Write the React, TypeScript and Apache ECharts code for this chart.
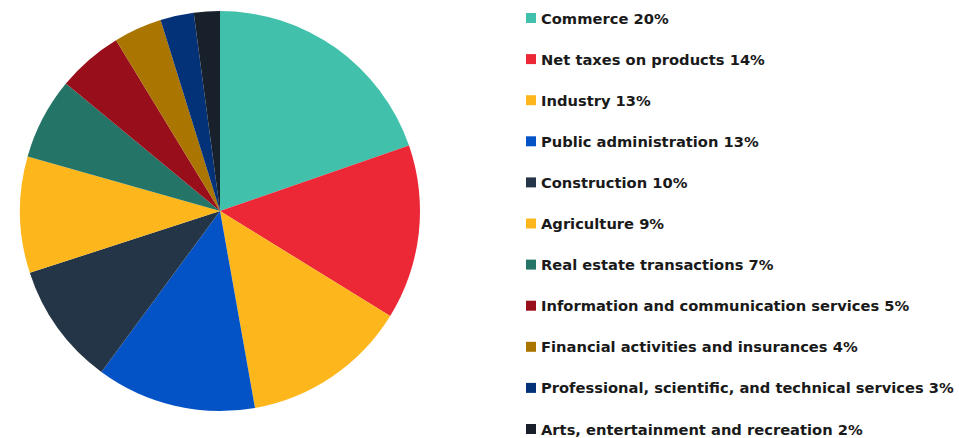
import React, { useEffect, useRef } from "react";
import * as echarts from "echarts";

const categories = [
  "Commerce",
  "Net taxes on products",
  "Industry",
  "Public administration",
  "Construction",
  "Agriculture",
  "Real estate transactions",
  "Information and communication services",
  "Financial activities and insurances",
  "Professional, scientific, and technical services",
  "Arts, entertainment and recreation",
];
const shares = [19.7, 14.1, 13.4, 12.9, 9.9, 9.4, 6.6, 5.3, 3.9, 2.7, 2.1];
const colors = [
  "#41C1AB",
  "#EC2837",
  "#FDB71C",
  "#0352C6",
  "#243547",
  "#FDB71C",
  "#247468",
  "#990E1B",
  "#AA7500",
  "#043278",
  "#18212B",
];

export default function App() {
  const ref = useRef<HTMLDivElement>(null);
  useEffect(() => {
    if (!ref.current) return;
    const chart = echarts.init(ref.current, undefined, { renderer: "svg" });
    const data = categories.map((name, i) => ({
      name,
      value: shares[i],
      itemStyle: { color: colors[i] },
    }));
    chart.setOption({
      animation: false,
      legend: {
        orient: "vertical",
        left: 526,
        top: 10.5,
        padding: 0,
        width: 433,
        height: 440,
        itemWidth: 10,
        itemHeight: 10,
        itemGap: 26.1,
        icon: "rect",
        selectedMode: false,
        formatter: (name: string) => {
          const i = categories.indexOf(name);
          return `${name} ${Math.round(shares[i])}%`;
        },
        textStyle: {
          fontFamily: "DejaVu Sans",
          fontWeight: "bold",
          fontSize: 14.7,
          lineHeight: 15,
          color: "#1a1a1a",
        },
      },
      series: [
        {
          type: "pie",
          center: [220, 211],
          radius: 200,
          startAngle: 90,
          clockwise: true,
          label: { show: false },
          labelLine: { show: false },
          emphasis: { disabled: true },
          itemStyle: { borderWidth: 0 },
          data,
        },
      ],
    });
    return () => chart.dispose();
  }, []);
  return (
    <div
      ref={ref}
      style={{ position: "absolute", left: 0, top: 0, width: 959, height: 438 }}
    />
  );
}
